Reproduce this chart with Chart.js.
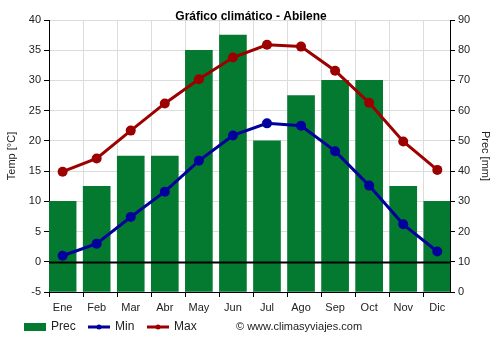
<!DOCTYPE html>
<html>
<head>
<meta charset="utf-8">
<script src="https://cdn.jsdelivr.net/npm/chart.js@4/dist/chart.umd.min.js"></script>
<style>
  html, body { margin: 0; padding: 0; background: #fff; }
  #wrap { width: 500px; height: 350px; }
</style>
</head>
<body>
<div id="wrap"><canvas id="c" width="500" height="350"></canvas></div>
<script>
// Monthly climate data for Abilene
const months = ['Ene', 'Feb', 'Mar', 'Abr', 'May', 'Jun', 'Jul', 'Ago', 'Sep', 'Oct', 'Nov', 'Dic'];
const precMm = [30, 35, 45, 45, 80, 85, 50, 65, 70, 70, 35, 30];
const tempMin = [1.0, 3.0, 7.4, 11.6, 16.7, 20.9, 22.9, 22.5, 18.3, 12.6, 6.2, 1.7];
const tempMax = [14.9, 17.1, 21.7, 26.2, 30.2, 33.8, 35.9, 35.6, 31.6, 26.3, 19.9, 15.2];
const tempTicks = [-5, 0, 5, 10, 15, 20, 25, 30, 35, 40];
const precTicks = [0, 10, 20, 30, 40, 50, 60, 70, 80, 90];

const GREEN = '#037a30';
const BLUE = '#00009c';
const RED = '#9c0000';
const GRID = '#dcdcdc';
const FONT = "'Liberation Sans', Arial, sans-serif";

// Each month sits at integer x; cell boundaries are drawn as grid lines.
const cellStart = -0.4;
const boundaries = months.map((_, i) => i + cellStart);

const pts = arr => arr.map((v, i) => ({ x: i, y: v }));

const overlay = {
  id: 'overlay',
  afterDatasetDraw(chart, args) {
    if (args.meta.type !== 'bar') return;
    const { ctx, chartArea } = chart;
    const y0 = Math.round(chart.scales.y.getPixelForValue(0)) + 0.5;
    ctx.save();
    ctx.strokeStyle = '#000';
    ctx.lineWidth = 2.2;
    ctx.beginPath();
    ctx.moveTo(chartArea.left, y0);
    ctx.lineTo(chartArea.right, y0);
    ctx.stroke();
    ctx.restore();
  },
  afterDraw(chart) {
    const { ctx } = chart;
    ctx.save();
    // title
    ctx.fillStyle = '#000';
    ctx.font = 'bold 12px ' + FONT;
    ctx.textAlign = 'center';
    ctx.textBaseline = 'middle';
    ctx.fillText('Gráfico climático - Abilene', 251, 17);

    // legend
    const ly = 327;
    ctx.font = '12px ' + FONT;
    ctx.textAlign = 'left';
    ctx.fillStyle = GREEN;
    ctx.fillRect(24, ly - 4, 22, 8);
    ctx.fillStyle = '#222';
    ctx.fillText('Prec', 51, ly);

    const lineItem = (x, color, label) => {
      ctx.strokeStyle = color;
      ctx.lineWidth = 3;
      ctx.beginPath();
      ctx.moveTo(x, ly);
      ctx.lineTo(x + 22, ly);
      ctx.stroke();
      ctx.fillStyle = color;
      ctx.beginPath();
      ctx.arc(x + 11, ly, 2.5, 0, Math.PI * 2);
      ctx.fill();
      ctx.fillStyle = '#222';
      ctx.fillText(label, x + 27, ly);
    };
    lineItem(88, BLUE, 'Min');
    lineItem(147, RED, 'Max');

    ctx.font = '11px ' + FONT;
    ctx.fillStyle = '#222';
    ctx.fillText('© www.climasyviajes.com', 236, ly);
    ctx.restore();
  }
};

new Chart(document.getElementById('c'), {
  data: {
    datasets: [
      {
        type: 'line', label: 'Max', data: pts(tempMax), yAxisID: 'y', xAxisID: 'x',
        borderColor: RED, backgroundColor: RED, borderWidth: 3,
        pointRadius: 5, pointBackgroundColor: RED, pointBorderWidth: 0,
        tension: 0, order: 1
      },
      {
        type: 'line', label: 'Min', data: pts(tempMin), yAxisID: 'y', xAxisID: 'x',
        borderColor: BLUE, backgroundColor: BLUE, borderWidth: 3,
        pointRadius: 5, pointBackgroundColor: BLUE, pointBorderWidth: 0,
        tension: 0, order: 2
      },
      {
        type: 'bar', label: 'Prec', data: pts(precMm), yAxisID: 'y1', xAxisID: 'x',
        backgroundColor: GREEN, borderWidth: 0,
        barThickness: 27, order: 3
      }
    ]
  },
  options: {
    responsive: false,
    animation: false,
    layout: { padding: { top: 20, left: 0, right: 0, bottom: 0 } },
    plugins: { legend: { display: false }, title: { display: false }, tooltip: { enabled: false } },
    scales: {
      x: {
        type: 'linear',
        position: 'bottom',
        offset: false,
        min: -0.4,
        max: 11.373,
        afterBuildTicks(scale) {
          const t = [];
          boundaries.forEach(v => t.push({ value: v }));
          months.forEach((_, i) => t.push({ value: i }));
          t.sort((a, b) => a.value - b.value);
          scale.ticks = t;
        },
        afterFit(scale) { scale.height = 58; },
        ticks: {
          autoSkip: false,
          maxRotation: 0,
          padding: 4,
          color: '#222',
          font: { family: FONT, size: 11 },
          callback(value) {
            const i = Math.round(value);
            return Math.abs(value - i) < 1e-6 ? months[i] : '';
          }
        },
        grid: {
          offset: false,
          color: ctx => (ctx.tick && Number.isInteger(ctx.tick.value)) ? 'rgba(0,0,0,0)' : GRID,
          tickColor: ctx => (ctx.tick && Number.isInteger(ctx.tick.value)) ? 'rgba(0,0,0,0)' : '#000',
          tickLength: 5,
          lineWidth: 1
        },
        border: { color: '#000', width: 1 }
      },
      y: {
        type: 'linear',
        position: 'left',
        min: -5,
        max: 40,
        afterBuildTicks(scale) { scale.ticks = tempTicks.map(v => ({ value: v })); },
        afterFit(scale) { scale.width = 49; },
        ticks: { color: '#222', padding: 3, font: { family: FONT, size: 11 } },
        grid: {
          color: ctx => (ctx.tick && ctx.tick.value === 0) ? 'rgba(0,0,0,0)' : GRID,
          tickColor: '#000', tickLength: 5, lineWidth: 1
        },
        border: { color: '#000', width: 1 },
        title: { display: true, text: 'Temp [°C]', color: '#222', font: { family: FONT, size: 11 }, padding: { top: 5, bottom: 0 } }
      },
      y1: {
        type: 'linear',
        position: 'right',
        min: 0,
        max: 90,
        afterBuildTicks(scale) { scale.ticks = precTicks.map(v => ({ value: v })); },
        afterFit(scale) { scale.width = 50; },
        ticks: { color: '#222', padding: 3, font: { family: FONT, size: 11 } },
        grid: { drawOnChartArea: false, tickColor: '#000', tickLength: 5 },
        border: { color: '#000', width: 1 },
        title: { display: true, text: 'Prec [mm]', color: '#222', font: { family: FONT, size: 11 }, padding: { top: 8, bottom: 0 } }
      }
    }
  },
  plugins: [overlay]
});
</script>
</body>
</html>
